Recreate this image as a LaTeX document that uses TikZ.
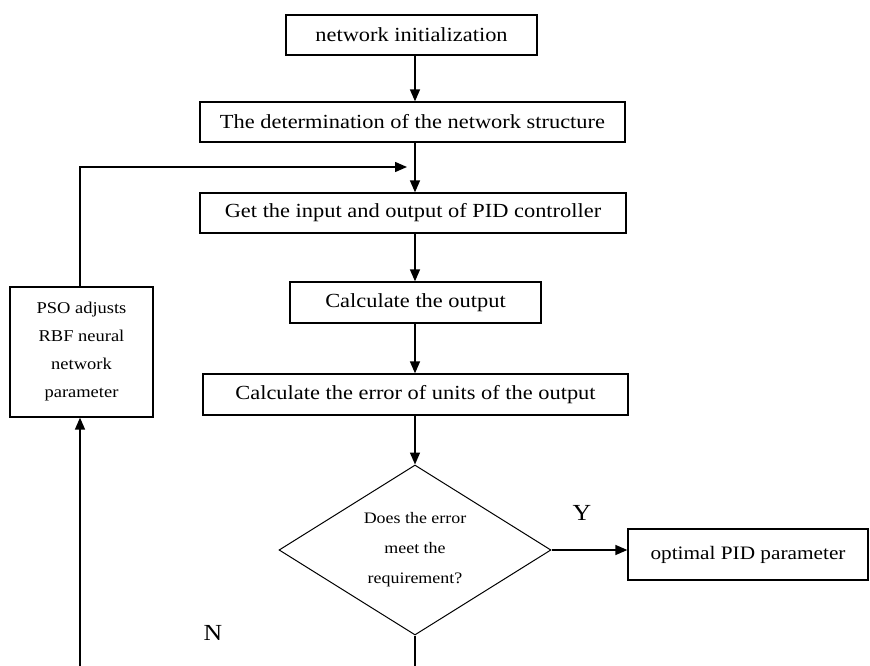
\documentclass[tikz,border=0pt]{standalone}
\usepackage{fontspec}
\setmainfont[FakeStretch=1.12]{Liberation Serif}
\usetikzlibrary{arrows.meta,shapes.geometric,calc}
\begin{document}
\begin{tikzpicture}[x=1pt,y=-1pt,
  box/.style={draw,line width=1.3pt,inner sep=0pt,align=center,font=\fontsize{20}{22}\selectfont},
  arr/.style={line width=1.5pt,-{Triangle[length=12pt,width=10pt]}},
  lbl/.style={font=\fontsize{23}{24}\selectfont}]
\useasboundingbox (0,0) rectangle (870,666);
\node[box,minimum width=251pt,minimum height=40pt] (b1) at (411.5,35) {network initialization};
\node[box,minimum width=425pt,minimum height=40pt] (b2) at (412.5,122) {The determination of the network structure};
\node[box,minimum width=426pt,minimum height=40pt] (b3) at (413,213) {Get the input and output of PID controller};
\node[box,minimum width=251pt,minimum height=41pt] (b4) at (415.5,302.5) {Calculate the output};
\node[box,minimum width=425pt,minimum height=41pt] (b5) at (415.5,394.5) {Calculate the error of units of the output};
\node[draw,line width=1pt,diamond,minimum width=272pt,minimum height=170pt,inner sep=0pt,aspect=1.6,align=center,
  font=\fontsize{16}{30}\selectfont] (d) at (415,550) {Does the error\\meet the\\requirement?};
\node[box,minimum width=240pt,minimum height=51pt,font=\fontsize{19}{22}\selectfont] (opt) at (748,554.5) {optimal PID parameter};
\node[box,minimum width=143pt,minimum height=130pt,font=\fontsize{16.5}{28}\selectfont] (pso) at (81.5,352) {PSO adjusts\\RBF neural\\network\\parameter};
\coordinate (axis) at (415,0);
\coordinate (top) at (80,167);
\coordinate (bot) at (80,666);
\coordinate (dbot) at (415,666);
\node[lbl] (Y) at (582,513) {Y};
\node[lbl] (N) at (213,633) {N};
\draw[arr] (b1.south -| axis) -- (b2.north -| axis);
\draw[arr] (b2.south -| axis) -- (b3.north -| axis);
\draw[arr] (b3.south -| axis) -- (b4.north -| axis);
\draw[arr] (b4.south -| axis) -- (b5.north -| axis);
\draw[arr] (b5.south -| axis) -- (d.north);
\draw[arr] (d.east) -- (d.east -| opt.west);
\draw[line width=1.5pt] (d.south) -- (dbot);
\draw[arr] (bot) -- (pso.south -| bot);
\draw[arr] (pso.north -| top) -- (top) -- ($(top -| axis)+(-8,0)$);
\end{tikzpicture}
\end{document}
